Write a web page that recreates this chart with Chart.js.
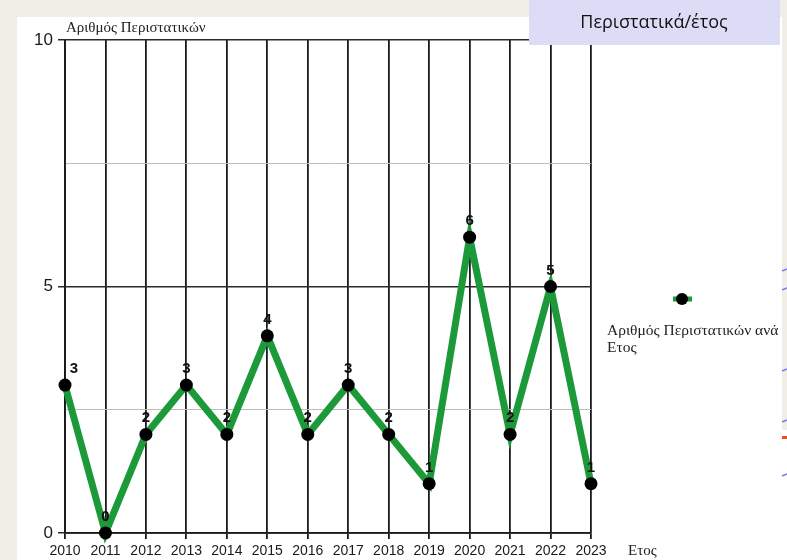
<!DOCTYPE html>
<html>
<head>
<meta charset="utf-8">
<script src="https://cdn.jsdelivr.net/npm/chart.js@4/dist/chart.umd.min.js"></script>
<style>
html,body{margin:0;padding:0;background:#f1eee8;}
#wrap{position:relative;width:787px;height:560px;}
canvas{display:block;}
</style>
</head>
<body>
<div id="wrap"><canvas id="c" width="787" height="560"></canvas></div>
<script>
const years = ['2010','2011','2012','2013','2014','2015','2016','2017','2018','2019','2020','2021','2022','2023'];
const incidents = [3,0,2,3,2,4,2,3,2,1,6,2,5,1];
const yTickLabels = {0:'0',5:'5',10:'10'};
const chartTitle = 'Περιστατικά/έτος';
const yAxisTitle = 'Αριθμός Περιστατικών';
const xAxisTitle = 'Ετος';
const legendLines = ['Αριθμός Περιστατικών ανά','Ετος'];

const GREEN = '#1c9a3a';

const bgPlugin = {
  id: 'bg',
  beforeDraw(chart) {
    const ctx = chart.ctx;
    ctx.save();
    ctx.fillStyle = '#f1eee8';
    ctx.fillRect(0,0,787,560);
    ctx.fillStyle = '#ffffff';
    ctx.fillRect(17,17,765,543);
    ctx.fillRect(782,430,5,130);
    ctx.restore();
  },
  afterDraw(chart) {
    const ctx = chart.ctx;
    const ca = chart.chartArea;
    ctx.save();
    // title box
    ctx.fillStyle = '#dcdcf7';
    ctx.fillRect(529,0,251,45);
    ctx.fillStyle = '#111';
    ctx.font = '18px "Open Sans", "Noto Sans", sans-serif';
    ctx.textAlign = 'center';
    ctx.textBaseline = 'middle';
    ctx.fillText(chartTitle, 654, 23);
    // axis titles
    ctx.font = '15px "Liberation Serif", "DejaVu Serif", serif';
    ctx.fillStyle = '#222';
    ctx.textAlign = 'left';
    ctx.textBaseline = 'alphabetic';
    ctx.fillText(yAxisTitle, ca.left + 1, ca.top - 8);
    ctx.fillText(xAxisTitle, ca.right + 37, 555);
    // legend
    ctx.strokeStyle = GREEN;
    ctx.lineWidth = 5;
    ctx.beginPath();
    ctx.moveTo(673,299); ctx.lineTo(692,299);
    ctx.stroke();
    ctx.fillStyle = '#000';
    ctx.beginPath();
    ctx.arc(682,299,6,0,Math.PI*2);
    ctx.fill();
    ctx.fillStyle = '#222';
    ctx.font = '15.5px "Liberation Serif", "DejaVu Serif", serif';
    ctx.fillText(legendLines[0], 607, 335);
    ctx.fillText(legendLines[1], 607, 352);
    // data labels
    const meta = chart.getDatasetMeta(0);
    ctx.fillStyle = '#111';
    ctx.font = 'bold 15px "Liberation Sans", Arial, sans-serif';
    ctx.textAlign = 'center';
    ctx.textBaseline = 'alphabetic';
    meta.data.forEach((pt, i) => {
      const dx = i === 0 ? 9 : 0;
      ctx.fillText(String(incidents[i]), pt.x + dx, pt.y - 12);
    });
    // edge marks
    ctx.strokeStyle = '#7b78f0';
    ctx.lineWidth = 1.5;
    [270,289,370,421,475].forEach(y => {
      ctx.beginPath(); ctx.moveTo(782,y+1); ctx.lineTo(787,y-1); ctx.stroke();
    });
    ctx.fillStyle = '#e8501e';
    ctx.fillRect(782,436,5,3);
    ctx.restore();
  }
};

new Chart(document.getElementById('c'), {
  type: 'line',
  data: {
    labels: years,
    datasets: [{
      data: incidents,
      borderColor: GREEN,
      borderWidth: 7,
      backgroundColor: '#000',
      pointBackgroundColor: '#000',
      pointBorderColor: '#000',
      pointRadius: 6.5,
      pointBorderWidth: 0,
      tension: 0,
      clip: false
    }]
  },
  options: {
    responsive: false,
    animation: false,
    events: [],
    layout: { padding: { top: 40, right: 196, left: 0, bottom: 0 } },
    plugins: { legend: { display: false }, tooltip: { enabled: false }, title: { display: false } },
    scales: {
      x: {
        type: 'category',
        offset: false,
        grid: { color: '#1a1a1a', lineWidth: 1.8, tickLength: 6, tickColor: '#1a1a1a', drawOnChartArea: true },
        border: { color: '#1a1a1a', width: 1.8 },
        ticks: { color: '#1a1a1a', font: { size: 14, family: '"Liberation Sans", Arial, sans-serif' }, padding: 4, maxRotation: 0, autoSkip: false },
        afterFit(s) { s.height = 27; }
      },
      y: {
        min: 0, max: 10,
        grid: {
          color: c => (c.tick && c.tick.value % 5 === 0) ? '#2a2a2a' : '#bdbdbd',
          tickColor: c => (c.tick && c.tick.value % 5 === 0) ? '#2a2a2a' : 'rgba(0,0,0,0)',
          lineWidth: c => (c.tick && c.tick.value % 5 === 0) ? 1.5 : 1,
          tickLength: 7
        },
        border: { color: '#1a1a1a', width: 1.8 },
        ticks: {
          stepSize: 2.5,
          color: '#1a1a1a',
          font: { size: 17, family: '"Liberation Sans", Arial, sans-serif' },
          padding: 5,
          callback: v => yTickLabels[v] !== undefined ? yTickLabels[v] : ''
        },
        afterFit(s) { s.width = 65; }
      }
    }
  },
  plugins: [bgPlugin]
});
</script>
</body>
</html>
